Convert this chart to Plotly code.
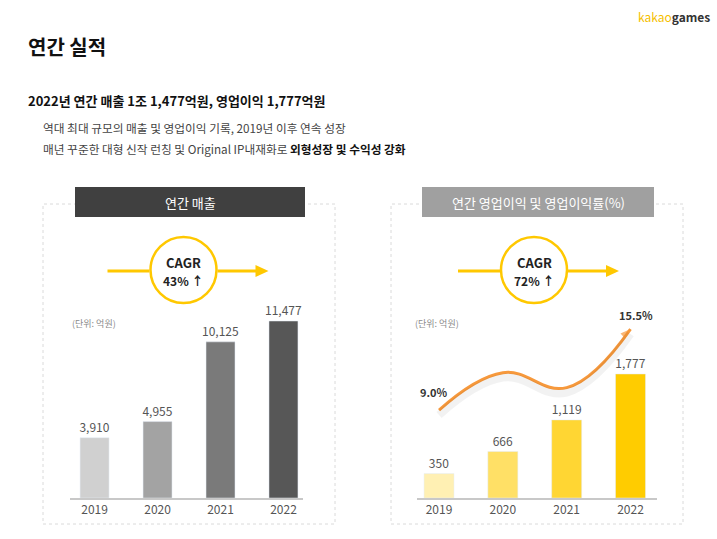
import plotly.graph_objects as go

W, H = 717, 539
FONT = "Noto Sans CJK KR"

# Data
years = ["2019", "2020", "2021", "2022"]
revenue = [3910, 4955, 10125, 11477]  # 억원
op_income = [350, 666, 1119, 1777]  # 억원
op_margin = [9.0, 12.0, 10.8, 15.5]  # %, middle points
labelled_margin_years = ["2019", "2022"]
revenue_cagr = "43%"
op_cagr = "72%"

rev_colors = ["#D0D0D0", "#A3A3A3", "#7A7A7A", "#575757"]
op_colors = ["#FFF0B3", "#FFE066", "#FFD633", "#FFCC00"]
YELLOW = "#FFC800"


def px(x):
    return x / W


def py(y):
    return 1 - y / H


def fmt(v):
    return f"{v:,}"


fig = go.Figure()

# Left panel: revenue bars
fig.add_trace(go.Bar(
    x=years, y=revenue, marker_color=rev_colors, width=0.46,
    text=[fmt(v) for v in revenue], textposition="outside", cliponaxis=False,
    constraintext="none",
    outsidetextfont=dict(size=12, color="#555555", family=FONT),
    xaxis="x", yaxis="y", showlegend=False, hoverinfo="skip",
))

# Right panel: operating income bars
fig.add_trace(go.Bar(
    x=years, y=op_income, marker_color=op_colors, width=0.47,
    text=[fmt(v) for v in op_income], textposition="outside", cliponaxis=False,
    constraintext="none",
    outsidetextfont=dict(size=12, color="#555555", family=FONT),
    xaxis="x2", yaxis="y2", showlegend=False, hoverinfo="skip",
))

# soft shadow under the margin curve
fig.add_trace(go.Scatter(
    x=years, y=op_margin, mode="lines",
    line=dict(color="rgba(0,0,0,0.05)", width=8, shape="spline", smoothing=1.2),
    xaxis="x2", yaxis="y4", showlegend=False, hoverinfo="skip",
))

# operating margin curve
fig.add_trace(go.Scatter(
    x=years, y=op_margin, mode="lines+markers",
    line=dict(color="#F7993C", width=3, shape="spline", smoothing=1.2),
    marker=dict(symbol="arrow", angleref="previous", size=[0, 0, 0, 11],
                color="#F7993C", line=dict(width=0)),
    xaxis="x2", yaxis="y3", showlegend=False, hoverinfo="skip",
))

ydom = [py(498), py(300)]
axis_common = dict(showgrid=False, zeroline=False, fixedrange=True)

fig.update_layout(
    width=W, height=H,
    margin=dict(l=0, r=0, t=0, b=0),
    paper_bgcolor="white", plot_bgcolor="rgba(0,0,0,0)",
    font=dict(family=FONT, color="#333333"),
    xaxis=dict(domain=[px(70), px(303)], range=[-0.39, 3.31], type="category",
               showline=True, linecolor="#C8C8C8", linewidth=2, ticks="",
               tickfont=dict(size=12, color="#555555"), **axis_common),
    yaxis=dict(domain=ydom, range=[0, 12840], visible=False, **axis_common),
    xaxis2=dict(domain=[px(417), px(657)], range=[-0.345, 3.415], type="category",
                showline=True, linecolor="#C8C8C8", linewidth=2, ticks="",
                tickfont=dict(size=12, color="#555555"), **axis_common),
    yaxis2=dict(domain=ydom, range=[0, 2837], visible=False, anchor="x2", **axis_common),
    yaxis3=dict(domain=ydom, range=[1.94, 17.83], visible=False, anchor="x2",
                overlaying="y2", **axis_common),
    yaxis4=dict(domain=[py(503), py(305)], range=[1.94, 17.83], visible=False,
                anchor="x2", **axis_common),
)

shapes = []
annotations = []

# margin labels at the first and last points (category axis -> use index)
label_shift = {"2019": (-5, 18), "2022": (5, 14)}
for i, (yr, m) in enumerate(zip(years, op_margin)):
    if yr in labelled_margin_years:
        dx, dy = label_shift[yr]
        annotations.append(dict(xref="x2", yref="y3", x=i, y=m, text=f"<b>{m:.1f}%</b>",
                                showarrow=False, yshift=dy, xshift=dx,
                                font=dict(size=11, color="#333333")))

# panel frames and header tabs
for (x0, x1), (hx0, hx1), hcolor, htext in [
    ((43, 335), (75, 305), "#404040", "연간 매출"),
    ((391, 683), (422, 654), "#A0A0A0", "연간 영업이익 및 영업이익률(%)"),
]:
    shapes.append(dict(type="rect", xref="paper", yref="paper",
                       x0=px(x0), x1=px(x1), y0=py(524), y1=py(204),
                       line=dict(color="#DADADA", width=1, dash="dot"),
                       fillcolor="rgba(0,0,0,0)", layer="below"))
    shapes.append(dict(type="rect", xref="paper", yref="paper",
                       x0=px(hx0), x1=px(hx1), y0=py(217), y1=py(187),
                       line=dict(width=0), fillcolor=hcolor, layer="below"))
    annotations.append(dict(xref="paper", yref="paper", x=px((hx0 + hx1) / 2), y=py(202),
                            text=htext, showarrow=False, xanchor="center", yanchor="middle",
                            font=dict(size=13, color="white")))

# CAGR badges with arrows
for cx, cagr in [(183.5, revenue_cagr), (534, op_cagr)]:
    ly = 271
    shapes.append(dict(type="line", xref="paper", yref="paper",
                       x0=px(cx - 76), x1=px(cx - 34), y0=py(ly), y1=py(ly),
                       line=dict(color=YELLOW, width=3)))
    shapes.append(dict(type="line", xref="paper", yref="paper",
                       x0=px(cx + 34), x1=px(cx + 74), y0=py(ly), y1=py(ly),
                       line=dict(color=YELLOW, width=3)))
    tip = cx + 85
    shapes.append(dict(type="path", xref="paper", yref="paper",
                       path=f"M {px(tip)} {py(ly)} L {px(tip - 13)} {py(ly - 6)} "
                            f"L {px(tip - 13)} {py(ly + 6)} Z",
                       fillcolor=YELLOW, line=dict(width=0)))
    shapes.append(dict(type="circle", xref="paper", yref="paper",
                       x0=px(cx - 33), x1=px(cx + 33), y0=py(303), y1=py(237),
                       fillcolor="white", line=dict(color=YELLOW, width=2.5)))
    annotations.append(dict(xref="paper", yref="paper", x=px(cx), y=py(262),
                            text="<b>CAGR</b>", showarrow=False,
                            xanchor="center", yanchor="middle",
                            font=dict(size=13, color="#222222")))
    annotations.append(dict(xref="paper", yref="paper", x=px(cx), y=py(280),
                            text=f"<b>{cagr} ↑</b>", showarrow=False,
                            xanchor="center", yanchor="middle",
                            font=dict(size=12, color="#222222")))

# unit notes
for ux in [70, 413]:
    annotations.append(dict(xref="paper", yref="paper", x=px(ux), y=py(323),
                            text="(단위: 억원)", showarrow=False, xanchor="left",
                            yanchor="middle", font=dict(size=9, color="#8A8A8A")))

# page header texts
annotations += [
    dict(xref="paper", yref="paper", x=px(712), y=py(17), xanchor="right", yanchor="middle",
         text="<span style='color:#F5C000'>kakao</span><b>games</b>", showarrow=False,
         font=dict(size=12, color="#333333")),
    dict(xref="paper", yref="paper", x=px(26), y=py(47), xanchor="left", yanchor="middle",
         text="<b>연간 실적</b>", showarrow=False, font=dict(size=20, color="#111111")),
    dict(xref="paper", yref="paper", x=px(26), y=py(100), xanchor="left", yanchor="middle",
         text="<b>2022년 연간 매출 1조 1,477억원, 영업이익 1,777억원</b>", showarrow=False,
         font=dict(size=13, color="#111111")),
    dict(xref="paper", yref="paper", x=px(41), y=py(127), xanchor="left", yanchor="middle",
         text="역대 최대 규모의 매출 및 영업이익 기록, 2019년 이후 연속 성장", showarrow=False,
         font=dict(size=11.7, color="#444444")),
    dict(xref="paper", yref="paper", x=px(41), y=py(148), xanchor="left", yanchor="middle",
         text="매년 꾸준한 대형 신작 런칭 및 Original IP내재화로 "
              "<b><span style='color:#111111'>외형성장 및 수익성 강화</span></b>",
         showarrow=False, font=dict(size=11.7, color="#444444")),
]

fig.update_layout(shapes=shapes, annotations=annotations)

# drop the browser's default body margin so the figure sits at the page corner
fig.write_html("out.html", config={"displayModeBar": False},
               post_script="document.body.style.margin = '0';")
